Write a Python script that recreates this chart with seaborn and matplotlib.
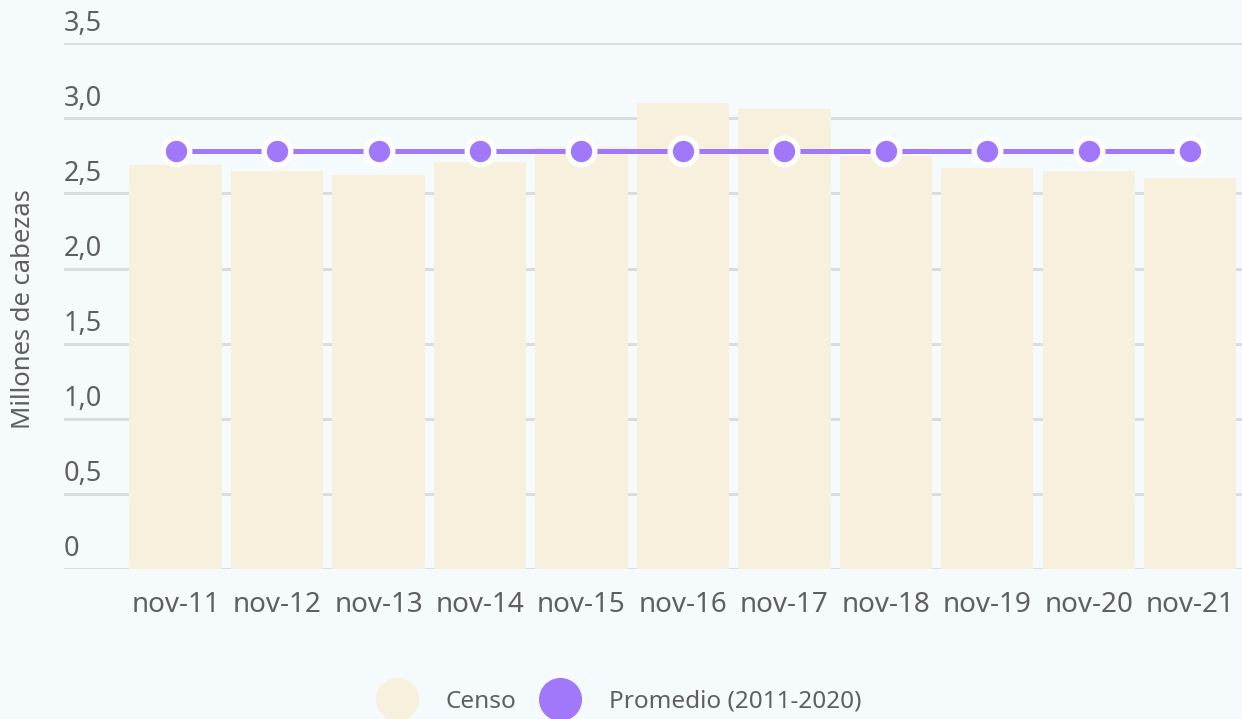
import numpy as np
import pandas as pd
import matplotlib
matplotlib.use("Agg")
import matplotlib.pyplot as plt
import matplotlib.transforms as mtransforms
from matplotlib.lines import Line2D
import seaborn as sns

# data
periodos = ['nov-11', 'nov-12', 'nov-13', 'nov-14', 'nov-15', 'nov-16',
            'nov-17', 'nov-18', 'nov-19', 'nov-20', 'nov-21']
censo = [2.69, 2.65, 2.62, 2.71, 2.81, 3.10, 3.06, 2.75, 2.67, 2.65, 2.60]
promedio = [2.78] * 11
yticks = [0, 0.5, 1.0, 1.5, 2.0, 2.5, 3.0, 3.5]
ytick_labels = ['0', '0,5', '1,0', '1,5', '2,0', '2,5', '3,0', '3,5']

bg = '#F5FAFD'
bar_color = '#F7F0DC'
purple = '#A178FA'
grid_color = '#D9DDDF'
text_color = '#5F5F5F'

sns.set_theme(style='white')
plt.rcParams['font.family'] = ['Noto Sans', 'DejaVu Sans']

df = pd.DataFrame({'periodo': periodos, 'censo': censo, 'promedio': promedio})

fig = plt.figure(figsize=(12.42, 7.19), dpi=100, facecolor=bg)
ax = fig.add_axes([0.0515, 0.2086, 0.9485, 0.7314])
ax.set_facecolor(bg)

sns.barplot(data=df, x='periodo', y='censo', color=bar_color, width=0.91,
            saturation=1, linewidth=0, edgecolor='none', ax=ax, zorder=2)
sns.lineplot(x=np.arange(len(periodos)), y=df['promedio'], color=purple,
             linewidth=3.6, marker='o', markersize=19.2, markeredgewidth=3.8,
             markeredgecolor='white', markerfacecolor=purple, ax=ax, zorder=4)

ax.set_ylim(0, 3.5)
ax.set_xlim(-1.1, 10.51)
for y in yticks:
    ax.axhline(y, color=grid_color, linewidth=2.2, zorder=1)
ax.set_yticks(yticks)
ax.set_yticklabels([])
ax.tick_params(axis='y', length=0)
ax.tick_params(axis='x', length=0, pad=16, labelsize=20, labelcolor=text_color)

offset = mtransforms.ScaledTranslation(0, 4 / 72, fig.dpi_scale_trans)
trans = mtransforms.blended_transform_factory(ax.transAxes, ax.transData) + offset
for y, lab in zip(yticks, ytick_labels):
    ax.text(0, y, lab, transform=trans, ha='left', va='bottom',
            fontsize=19.5, color=text_color)

ax.set_xlabel('')
ax.set_ylabel('')
fig.text(0.019, 0.57, 'Millones de cabezas', rotation=90, ha='center',
         va='center', fontsize=18.5, color=text_color)

for s in ax.spines.values():
    s.set_visible(False)

handles = [
    Line2D([], [], linestyle='none', marker='o', markersize=30,
           markerfacecolor=bar_color, markeredgecolor=bar_color),
    Line2D([], [], linestyle='none', marker='o', markersize=30,
           markerfacecolor=purple, markeredgecolor=purple),
]
fig.legend(handles, ['Censo', 'Promedio (2011-2020)'], loc='center',
           bbox_to_anchor=(0.497, 0.024), ncol=2, frameon=False, fontsize=17.5,
           labelcolor=text_color, handletextpad=1.0, columnspacing=0.8)

fig.savefig('out.png', dpi=100, facecolor=bg)
